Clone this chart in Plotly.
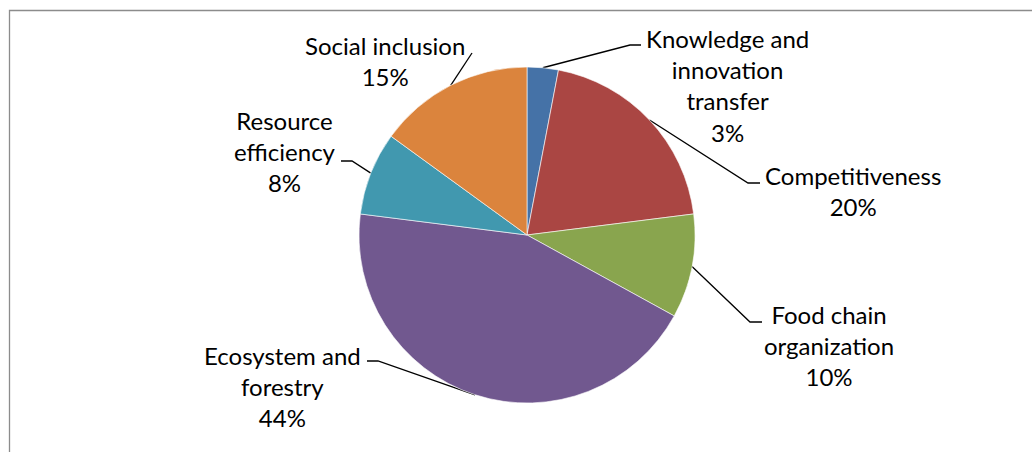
import math
import plotly.graph_objects as go

# Budget shares by priority (percent)
categories = [
    "Knowledge and<br>innovation<br>transfer",
    "Competitiveness",
    "Food chain<br>organization",
    "Ecosystem and<br>forestry",
    "Resource<br>efficiency",
    "Social inclusion",
]
shares = [3, 20, 10, 44, 8, 15]
colors = ["#4572A7", "#AA4643", "#89A54E", "#71588F", "#4198AF", "#DB843D"]

W, H = 1032, 452
CX, CY, R = 527, 235, 168  # pie centre and radius in pixels

# Label placement: (elbow x, elbow y, horizontal end x, text centre x, text top y)
label_layout = [
    (630, 45, 641, 727, 22),
    (748, 183, 760, 853, 159),
    (750, 322, 762, 829, 298),
    (378, 361, 367, 282, 339),
    (352, 161, 341, 285, 104),
    (472, 53, 472, 385, 29),
]

fig = go.Figure()

fig.add_trace(go.Pie(
    labels=[c.replace("<br>", " ") for c in categories],
    values=shares,
    sort=False,
    direction="clockwise",
    rotation=0,
    marker=dict(colors=colors, line=dict(color="white", width=0.6)),
    textinfo="none",
    hoverinfo="label+percent",
    showlegend=False,
    domain=dict(x=[(CX - R) / W, (CX + R) / W], y=[1 - (CY + R) / H, 1 - (CY - R) / H]),
))

# Leader lines from each slice's mid-angle on the rim to its label
total = sum(shares)
cum = 0
annotations = []
for cat, v, (ex, ey, hx, tx, ty) in zip(categories, shares, label_layout):
    mid = (cum + v / 2) / total * 2 * math.pi
    cum += v
    px = CX + R * math.sin(mid)
    py = CY - R * math.cos(mid)
    fig.add_trace(go.Scatter(
        x=[px, ex, hx], y=[py, ey, ey], mode="lines",
        line=dict(color="black", width=1.3), hoverinfo="skip", showlegend=False,
    ))
    annotations.append(dict(
        x=tx, y=ty, xref="x", yref="y", xanchor="center", yanchor="top",
        text=f"{cat}<br>{round(v / total * 100)}%", showarrow=False, align="center",
        font=dict(family="Lato", size=24, color="black"),
    ))

fig.update_layout(
    width=W, height=H,
    margin=dict(l=0, r=0, t=0, b=0),
    paper_bgcolor="white", plot_bgcolor="rgba(0,0,0,0)",
    xaxis=dict(range=[0, W], visible=False, domain=[0, 1], fixedrange=True),
    yaxis=dict(range=[H, 0], visible=False, domain=[0, 1], fixedrange=True),
    annotations=annotations,
    shapes=[dict(type="rect", xref="x", yref="y", x0=9.5, y0=10.5, x1=W + 10, y1=H + 10,
                 line=dict(color="#8c8c8c", width=1.3), layer="below")],
)

fig.write_html("out.html")
